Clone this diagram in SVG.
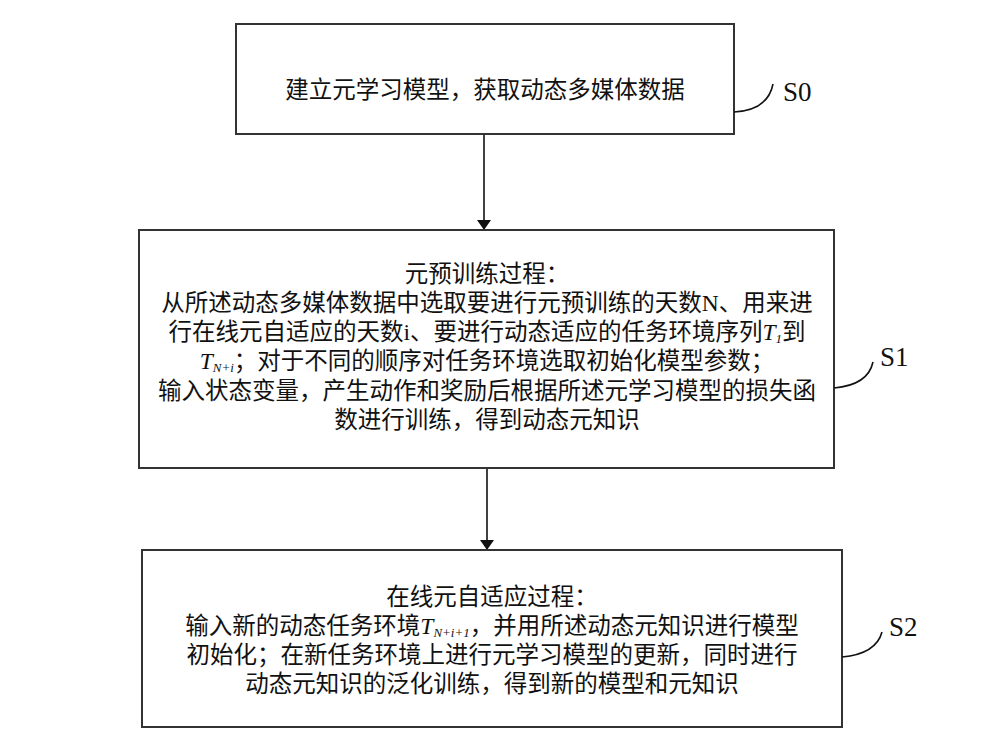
<svg xmlns="http://www.w3.org/2000/svg" width="999" height="752" viewBox="0 0 999 752">
<defs>
<style>
.box{fill:#fff;stroke:#333;stroke-width:2}
.t{font-family:"Liberation Serif","Noto Sans CJK SC",serif;font-size:23.5px;fill:#111;text-anchor:middle}
.it{font-family:"Liberation Serif",serif;font-style:italic}
.sub{font-family:"Liberation Serif",serif;font-style:italic;font-size:13px}
.lbl{font-family:"Liberation Serif",serif;font-size:27px;fill:#111}
.lead{fill:none;stroke:#111;stroke-width:1.6}
.conn{stroke:#111;stroke-width:1.6;fill:none}
</style>
<marker id="ah" viewBox="0 0 10 14" refX="10" refY="7" markerWidth="10" markerHeight="14" markerUnits="userSpaceOnUse" orient="auto">
<path d="M0,0 L10,7 L0,14 Z" fill="#111"/>
</marker>
</defs>
<rect width="999" height="752" fill="#fff"/>
<g id="connectors">
<line class="conn" x1="484" y1="134" x2="484" y2="230" marker-end="url(#ah)"/>
<line class="conn" x1="487" y1="468" x2="487" y2="550" marker-end="url(#ah)"/>
</g>
<g id="S0">
<rect class="box" x="236" y="24" width="498" height="110"/>
<text class="t" x="485" y="98">建立元学习模型，获取动态多媒体数据</text>
<path class="lead" d="M734,112 Q768,110 773,84"/>
<text class="lbl" x="783" y="101">S0</text>
</g>
<g id="S1">
<rect class="box" x="139" y="230" width="695" height="238"/>
<text class="t" x="487" y="282">元预训练过程：</text>
<text class="t" x="487" y="311">从所述动态多媒体数据中选取要进行元预训练的天数N、用来进</text>
<text class="t" x="487" y="340">行在线元自适应的天数i、要进行动态适应的任务环境序列<tspan class="it">T</tspan><tspan class="sub" dy="3">1</tspan><tspan dy="-3">到</tspan></text>
<text class="t" x="487" y="369"><tspan class="it">T</tspan><tspan class="sub" dy="3">N+i</tspan><tspan dy="-3">；对于不同的顺序对任务环境选取初始化模型参数；</tspan></text>
<text class="t" x="487" y="399">输入状态变量，产生动作和奖励后根据所述元学习模型的损失函</text>
<text class="t" x="487" y="428">数进行训练，得到动态元知识</text>
<path class="lead" d="M834,388 Q868,385 873,362"/>
<text class="lbl" x="880" y="366">S1</text>
</g>
<g id="S2">
<rect class="box" x="142" y="550" width="700" height="177"/>
<text class="t" x="492" y="605">在线元自适应过程：</text>
<text class="t" x="492" y="634">输入新的动态任务环境<tspan class="it">T</tspan><tspan class="sub" dy="3">N+i+1</tspan><tspan dy="-3">，并用所述动态元知识进行模型</tspan></text>
<text class="t" x="492" y="663">初始化；在新任务环境上进行元学习模型的更新，同时进行</text>
<text class="t" x="492" y="692">动态元知识的泛化训练，得到新的模型和元知识</text>
<path class="lead" d="M842,657 Q876,654 882,632"/>
<text class="lbl" x="889" y="636">S2</text>
</g>
</svg>
